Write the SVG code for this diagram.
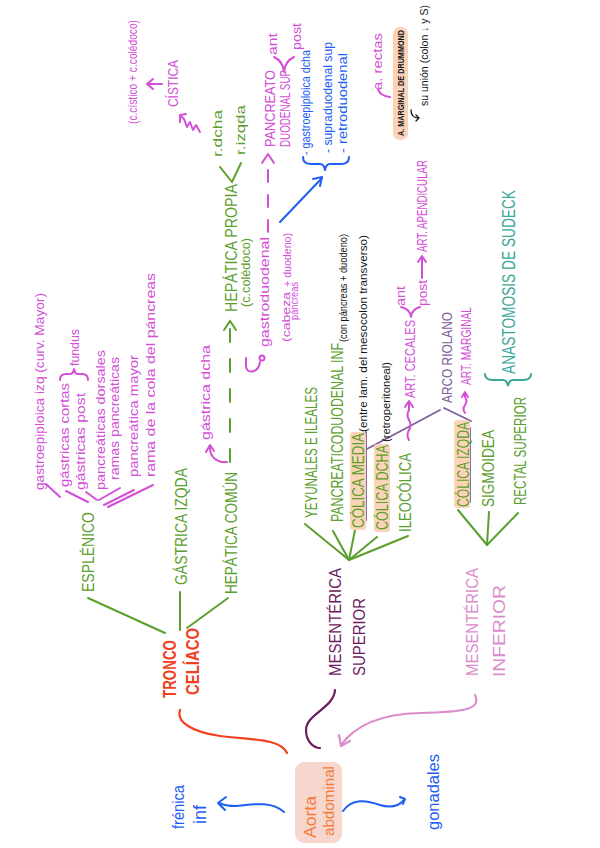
<svg xmlns="http://www.w3.org/2000/svg" width="600" height="848" viewBox="0 0 600 848">
<style>
text{font-family:"Liberation Sans",Arial,sans-serif;}
.g{fill:#5ba02d;font-size:16px;}
.gs{fill:#5ba02d;font-size:12px;}
.m{fill:#d24fd6;font-size:13px;}
.mc{fill:#d24fd6;font-size:14px;}
.ms{fill:#d24fd6;font-size:10px;}
.b{fill:#1e5ef2;font-size:13px;}
.bl{fill:#1e5ef2;font-size:16px;}
.k{fill:#151515;font-size:10.5px;}
.r{fill:#f0401f;font-size:18px;font-weight:bold;}
.sg{stroke:#5ba02d;stroke-width:2;fill:none;stroke-linecap:round;}
.sm{stroke:#d24fd6;stroke-width:2;fill:none;stroke-linecap:round;stroke-linejoin:round;}
.sb{stroke:#1e5ef2;stroke-width:2;fill:none;stroke-linecap:round;stroke-linejoin:round;}
.sp{stroke:#7d5f9c;stroke-width:1.8;fill:none;stroke-linecap:round;}
.hl{fill:#fbd3b8;}
</style>

<g id="connectors">
  <path d="M287,753 C280,738 250,740 220,736 C192,732 176,722 180,710" stroke="#f0401f" stroke-width="2.2" fill="none" stroke-linecap="round"/>
  <path d="M335,690 C334,708 306,714 306,730 C306,742 314,748 320,748" stroke="#6d1a5e" stroke-width="2.2" fill="none" stroke-linecap="round"/>
  <path d="M475,695 C482,710 462,712 420,713 C382,714 356,724 341,745" stroke="#db8ccc" stroke-width="2.2" fill="none" stroke-linecap="round"/>
  <path d="M339,735 L341,746 L350,741" stroke="#db8ccc" stroke-width="2.2" fill="none" stroke-linecap="round" stroke-linejoin="round"/>
  <path class="sb" d="M284,812 C270,800 250,805 236,806 C229,806 223,805 219,803"/>
  <path class="sb" d="M226,797 L218,803 L225,810"/>
  <path class="sb" d="M343,811 C352,798 366,800 380,805 C390,808 398,807 404,800"/>
  <path class="sb" d="M400,797 L405,799 L403,804"/>
  <line class="sg" x1="165" y1="633" x2="88" y2="598"/>
  <line class="sg" x1="180" y1="630" x2="180" y2="592"/>
  <line class="sg" x1="187" y1="628" x2="228" y2="598"/>
  <line class="sm" x1="60" y1="497" x2="46" y2="484"/>
  <line class="sm" x1="88" y1="502" x2="66" y2="491"/>
  <line class="sm" x1="97" y1="500" x2="86" y2="492"/>
  <line class="sm" x1="99" y1="500" x2="120" y2="488"/>
  <line class="sm" x1="104" y1="505" x2="134" y2="490"/>
  <line class="sm" x1="108" y1="507" x2="153" y2="485"/>
  <path class="sm" d="M60,380 Q60,374 66,374 L70,374 Q73,374 74,369 Q75,374 78,374 L82,374 Q88,374 88,380"/>
  <path class="sg" d="M230,462 L230,322" stroke-dasharray="13,17"/>
  <path class="sg" d="M224,330 L230,321 L236,330"/>
  <path class="sm" d="M227,462 C217,463 210,457 210,448"/>
  <path class="sm" d="M206,452 L210,445 L214,451"/>
  <path class="sm" d="M246,358 L246,366 C246,374 258,374 260,362"/>
  <circle cx="262" cy="358" r="2.5" class="sm"/>
  <path class="sg" d="M220,167 L232,182 L241,163"/>
  <path class="sm" d="M200,132 L196,125 L193,130 L190,122 L187,127 L184,119 L181,116"/>
  <path class="sm" d="M180,122 L180,115 L186,114"/>
  <path class="sm" d="M162,84 L148,84 M153,79 L147,84 L153,89"/>
  <path class="sm" d="M268,232 L268,157" stroke-dasharray="12,13"/>
  <path class="sm" d="M262,163 L268,154 L274,163"/>
  <path class="sm" d="M274,57 Q283,61 284,72 Q285,61 294,57"/>
  <path class="sb" d="M280,222 L322,178"/>
  <path class="sb" d="M313,179 L322,177 L320,186"/>
  <path class="sb" d="M303,157 Q303,164 311,164 L320,164 Q324,164 325,170 Q326,164 330,164 L341,164 Q349,164 349,157"/>
  <path class="sm" d="M390,97 Q380,96 378,89"/>
  <line class="sg" x1="349" y1="560" x2="305" y2="524"/>
  <line class="sg" x1="349" y1="560" x2="333" y2="531"/>
  <line class="sg" x1="349" y1="560" x2="355" y2="530"/>
  <line class="sg" x1="349" y1="560" x2="377" y2="537"/>
  <line class="sg" x1="349" y1="560" x2="408" y2="536"/>
  <line class="sg" x1="487" y1="545" x2="458" y2="510"/>
  <line class="sg" x1="487" y1="545" x2="489" y2="512"/>
  <line class="sg" x1="487" y1="545" x2="518" y2="513"/>
  <line class="sp" x1="440" y1="410" x2="367" y2="449"/>
  <line class="sp" x1="366" y1="432" x2="366" y2="520"/>
  <line class="sp" x1="444" y1="408" x2="471" y2="421"/>
  <line class="sp" x1="470" y1="428" x2="470" y2="502"/>
  <path class="sm" d="M409,440 q-3,-5 0,-10 q3,-5 0,-10 q-3,-5 0,-10 L409,402"/>
  <path class="sm" d="M405,407 L409,401 L413,407"/>
  <path class="sm" d="M401,307 Q410,309 411,317 Q412,309 420,307"/>
  <path class="sm" d="M422,278 L422,257 M418,262 L422,256 L426,262"/>
  <path class="sm" d="M465,413 q-3,-4 0,-8 q3,-4 0,-8 L465,393"/>
  <path class="sm" d="M462,397 L465,392 L468,397"/>
  <path d="M485,374 Q485,380 493,380 L503,380 Q507,380 508,386 Q509,380 513,380 L523,380 Q531,380 531,374" stroke="#3aa896" stroke-width="2" fill="none" stroke-linecap="round"/>
  <path d="M411,110 Q411,118 419,118 M416,115 L419,118 L416,121" stroke="#151515" stroke-width="1.3" fill="none" stroke-linecap="round"/>
</g>

<g id="aorta">
  <rect x="295" y="762" width="47" height="81" rx="9" fill="#f6d6cd"/>
  <text transform="translate(316,838) rotate(-90)" textLength="42" lengthAdjust="spacingAndGlyphs" style="fill:#f47a3a;font-size:16px">Aorta</text>
  <text transform="translate(334,836) rotate(-90)" textLength="70" lengthAdjust="spacingAndGlyphs" style="fill:#f47a3a;font-size:15px">abdominal</text>
</g>
<g id="frenica">
  <text class="bl" transform="translate(184,829) rotate(-90)" textLength="44" lengthAdjust="spacingAndGlyphs">frénica</text>
  <text class="bl" transform="translate(206,824) rotate(-90)" style="font-size:18px">inf</text>
</g>
<g id="gonadales">
  <text class="bl" transform="translate(439,830) rotate(-90)" textLength="76" lengthAdjust="spacingAndGlyphs">gonadales</text>
</g>

<g id="tronco-celiaco">
  <text class="r" transform="translate(176,698) rotate(-90)" textLength="58" lengthAdjust="spacingAndGlyphs">TRONCO</text>
  <text class="r" transform="translate(199,695) rotate(-90)" textLength="67" lengthAdjust="spacingAndGlyphs">CELÍACO</text>
</g>

<g id="esplenico">
  <text class="g" transform="translate(94,592) rotate(-90)" textLength="80" lengthAdjust="spacingAndGlyphs">ESPLÉNICO</text>
</g>
<g id="esplenico-ramas">
  <text class="m" transform="translate(44,490) rotate(-90)" textLength="197" lengthAdjust="spacingAndGlyphs">gastroepiploica izq (curv. Mayor)</text>
  <text class="m" transform="translate(69,487) rotate(-90)" textLength="104" lengthAdjust="spacingAndGlyphs">gástricas cortas</text>
  <text class="m" transform="translate(85,490) rotate(-90)" textLength="97" lengthAdjust="spacingAndGlyphs">gástricas post</text>
  <text class="m" transform="translate(79,366) rotate(-90)" textLength="37" lengthAdjust="spacingAndGlyphs">fundus</text>
  <text class="m" transform="translate(105,490) rotate(-90)" textLength="140" lengthAdjust="spacingAndGlyphs">pancreáticas dorsales</text>
  <text class="m" transform="translate(119,480) rotate(-90)" textLength="123" lengthAdjust="spacingAndGlyphs">ramas pancreáticas</text>
  <text class="m" transform="translate(138,477) rotate(-90)" textLength="122" lengthAdjust="spacingAndGlyphs">pancreática mayor</text>
  <text class="m" transform="translate(155,477) rotate(-90)" textLength="204" lengthAdjust="spacingAndGlyphs">rama de la cola del páncreas</text>
</g>

<g id="gastrica-izqda">
  <text class="g" transform="translate(187,585) rotate(-90)" textLength="117" lengthAdjust="spacingAndGlyphs">GÁSTRICA IZQDA</text>
</g>

<g id="hepatica-comun">
  <text class="g" transform="translate(237,594) rotate(-90)" textLength="122" lengthAdjust="spacingAndGlyphs">HEPÁTICA COMÚN</text>
  <text class="m" transform="translate(210,440) rotate(-90)" textLength="95" lengthAdjust="spacingAndGlyphs">gástrica dcha</text>
</g>

<g id="hepatica-propia">
  <text class="g" transform="translate(237,312) rotate(-90)" textLength="128" lengthAdjust="spacingAndGlyphs">HEPÁTICA PROPIA</text>
  <text class="gs" transform="translate(250,307) rotate(-90)" textLength="69" lengthAdjust="spacingAndGlyphs">(c.colédoco)</text>
  <text class="gs" transform="translate(222,157) rotate(-90)" textLength="47" lengthAdjust="spacingAndGlyphs" style="font-size:13px">r.dcha</text>
  <text class="gs" transform="translate(245,155) rotate(-90)" textLength="50" lengthAdjust="spacingAndGlyphs" style="font-size:13px">r.izqda</text>
</g>

<g id="cistica">
  <text class="mc" transform="translate(178,107) rotate(-90)" textLength="47" lengthAdjust="spacingAndGlyphs">CÍSTICA</text>
  <text class="m" transform="translate(137,124) rotate(-90)" textLength="104" lengthAdjust="spacingAndGlyphs">(c.cístico + c.colédoco)</text>
</g>

<g id="gastroduodenal">
  <text class="m" transform="translate(269,347) rotate(-90)" textLength="110" lengthAdjust="spacingAndGlyphs">gastroduodenal</text>
  <text class="ms" transform="translate(290,342) rotate(-90)" textLength="50" lengthAdjust="spacingAndGlyphs">(cabeza</text>
  <text class="ms" transform="translate(298,320) rotate(-90)" textLength="38" lengthAdjust="spacingAndGlyphs">páncreas</text>
  <text class="ms" transform="translate(291,287) rotate(-90)" textLength="54" lengthAdjust="spacingAndGlyphs">+ duodeno)</text>
</g>

<g id="pancreatoduodenal-sup">
  <text class="mc" transform="translate(275,147) rotate(-90)" textLength="77" lengthAdjust="spacingAndGlyphs">PANCREATO</text>
  <text class="mc" transform="translate(290,147) rotate(-90)" textLength="77" lengthAdjust="spacingAndGlyphs">DUODENAL SUP</text>
  <text class="m" transform="translate(277,55) rotate(-90)" textLength="22" lengthAdjust="spacingAndGlyphs">ant</text>
  <text class="m" transform="translate(301,50) rotate(-90)" textLength="27" lengthAdjust="spacingAndGlyphs">post</text>
</g>

<g id="ramas-gastroduodenal">
  <text class="b" transform="translate(310,155) rotate(-90)" textLength="105" lengthAdjust="spacingAndGlyphs">- gastroepiploica dcha</text>
  <text class="b" transform="translate(332,153) rotate(-90)" textLength="111" lengthAdjust="spacingAndGlyphs">- supraduodenal sup</text>
  <text class="b" transform="translate(347,153) rotate(-90)" textLength="100" lengthAdjust="spacingAndGlyphs">- retroduodenal</text>
</g>

<g id="rectas">
  <text class="m" transform="translate(382,90) rotate(-90)" textLength="57" lengthAdjust="spacingAndGlyphs">a. rectas</text>
</g>

<g id="drummond">
  <rect x="393" y="27" width="15" height="113" rx="7" fill="#fbd3b8"/>
  <text transform="translate(404,136) rotate(-90)" textLength="106" lengthAdjust="spacingAndGlyphs" style="fill:#151515;font-size:8.5px;font-weight:bold">A. MARGINAL DE DRUMMOND</text>
  <text class="k" transform="translate(428,106) rotate(-90)" textLength="101" lengthAdjust="spacingAndGlyphs">su unión (colon ↓ y S)</text>
</g>

<g id="mesenterica-superior">
  <text transform="translate(341,676) rotate(-90)" textLength="108" lengthAdjust="spacingAndGlyphs" style="fill:#6d1a5e;font-size:17px">MESENTÉRICA</text>
  <text transform="translate(365,676) rotate(-90)" textLength="78" lengthAdjust="spacingAndGlyphs" style="fill:#6d1a5e;font-size:17px">SUPERIOR</text>
</g>

<g id="sma-ramas">
  <rect class="hl" x="350" y="432" width="16" height="98" rx="3"/>
  <rect class="hl" x="374" y="444" width="16" height="88" rx="3"/>
  <text class="g" transform="translate(317,518) rotate(-90)" textLength="131" lengthAdjust="spacingAndGlyphs">YEYUNALES E ILEALES</text>
  <text class="g" transform="translate(343,522) rotate(-90)" textLength="179" lengthAdjust="spacingAndGlyphs">PANCREATICODUODENAL INF</text>
  <text class="k" transform="translate(347,342) rotate(-90)" textLength="108" lengthAdjust="spacingAndGlyphs">(con páncreas + duodeno)</text>
  <text class="g" transform="translate(364,528) rotate(-90)" textLength="95" lengthAdjust="spacingAndGlyphs">CÓLICA MEDIA</text>
  <text class="k" transform="translate(367,432) rotate(-90)" textLength="197" lengthAdjust="spacingAndGlyphs">(entre lam. del mesocolon transverso)</text>
  <text class="g" transform="translate(388,530) rotate(-90)" textLength="85" lengthAdjust="spacingAndGlyphs">CÓLICA DCHA</text>
  <text class="k" transform="translate(390,442) rotate(-90)" textLength="80" lengthAdjust="spacingAndGlyphs">(retroperitoneal)</text>
  <text class="g" transform="translate(411,532) rotate(-90)" textLength="79" lengthAdjust="spacingAndGlyphs">ILEOCÓLICA</text>
  <text class="mc" transform="translate(415,398) rotate(-90)" textLength="78" lengthAdjust="spacingAndGlyphs">ART. CECALES</text>
  <text class="m" transform="translate(405,306) rotate(-90)" textLength="20" lengthAdjust="spacingAndGlyphs">ant</text>
  <text class="m" transform="translate(427,306) rotate(-90)" textLength="26" lengthAdjust="spacingAndGlyphs">post</text>
  <text class="mc" transform="translate(427,252) rotate(-90)" textLength="92" lengthAdjust="spacingAndGlyphs">ART. APENDICULAR</text>
</g>

<g id="arco-riolano">
  <text transform="translate(452,403) rotate(-90)" textLength="91" lengthAdjust="spacingAndGlyphs" style="fill:#7d5f9c;font-size:15px">ARCO RIOLANO</text>
  <text class="mc" transform="translate(471,385) rotate(-90)" textLength="78" lengthAdjust="spacingAndGlyphs">ART. MARGINAL</text>
</g>

<g id="mesenterica-inferior">
  <text transform="translate(478,676) rotate(-90)" textLength="108" lengthAdjust="spacingAndGlyphs" style="fill:#db8ccc;font-size:17px">MESENTÉRICA</text>
  <text transform="translate(505,677) rotate(-90)" textLength="92" lengthAdjust="spacingAndGlyphs" style="fill:#db8ccc;font-size:17px">INFERIOR</text>
</g>

<g id="ima-ramas">
  <rect class="hl" x="454" y="420" width="16" height="88" rx="3"/>
  <text class="g" transform="translate(469,507) rotate(-90)" textLength="85" lengthAdjust="spacingAndGlyphs">CÓLICA IZQDA</text>
  <text class="g" transform="translate(494,507) rotate(-90)" textLength="77" lengthAdjust="spacingAndGlyphs">SIGMOIDEA</text>
  <text class="g" transform="translate(526,505) rotate(-90)" textLength="108" lengthAdjust="spacingAndGlyphs">RECTAL SUPERIOR</text>
</g>

<g id="sudeck">
  <text transform="translate(515,374) rotate(-90)" textLength="184" lengthAdjust="spacingAndGlyphs" style="fill:#3aa896;font-size:18px">ANASTOMOSIS DE SUDECK</text>
</g>
</svg>
